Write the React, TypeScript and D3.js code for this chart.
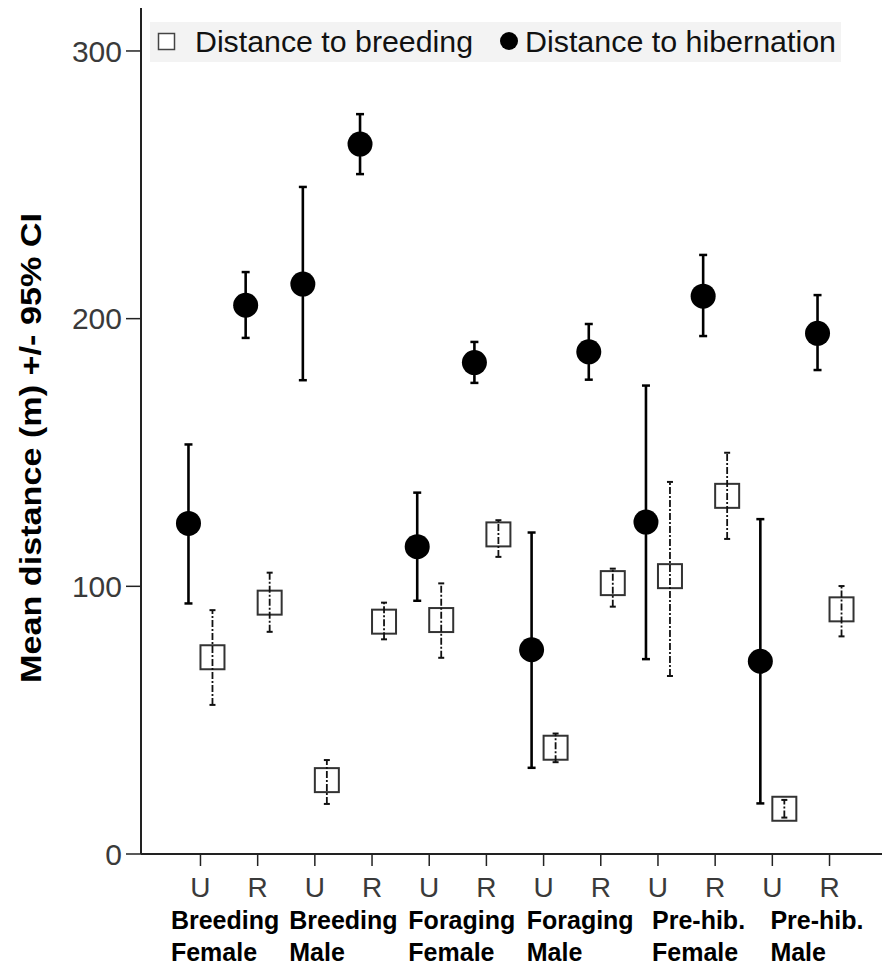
import React, { useLayoutEffect, useRef, useState } from "react";
import * as d3 from "d3";

const xLabels = ["U", "R", "U", "R", "U", "R", "U", "R", "U", "R", "U", "R"];
const groupLine1 = ["Breeding", "Breeding", "Foraging", "Foraging", "Pre-hib.", "Pre-hib."];
const groupLine2 = ["Female", "Male", "Female", "Male", "Female", "Male"];

const hibMean = [123.5, 205, 212.9, 265.2, 114.8, 183.6, 76.3, 187.6, 124, 208.4, 72, 194.5];
const hibLow = [93.6, 192.8, 177, 254, 94.6, 176, 32.2, 177.2, 72.8, 193.5, 18.9, 180.8];
const hibHigh = [153, 217.4, 249.2, 276.4, 135, 191.3, 120.1, 198, 175, 223.8, 125.1, 208.8];

const brMean = [73.5, 93.9, 27.6, 86.8, 87.4, 119.4, 39.7, 101.2, 103.8, 133.8, 16.9, 91.4];
const brLow = [55.7, 83, 18.7, 80.2, 73.3, 111, 34.3, 92.4, 66.5, 117.7, 13.6, 81.3];
const brHigh = [91.1, 105.1, 35.1, 93.9, 101.1, 124.7, 45, 106.6, 139, 149.9, 20.2, 100.1];

const yTicks = [0, 100, 200, 300];
const legendLabels = ["Distance to breeding", "Distance to hibernation"];
const yTitle = "Mean distance (m) +/- 95% CI";

const W = 882;
const H = 963;
const FONT = "'Liberation Sans', Arial, sans-serif";

export default function App() {
  const left = 141;
  const right = 890;
  const top = 6;
  const bottom = 854;

  const y = d3.scaleLinear().domain([0, 316.8]).range([bottom, top]);
  const idx = xLabels.map((_, i) => i);
  const x = d3.scalePoint<number>().domain(idx).range([left, right - 1]).padding(1.04);

  const refs = useRef<(SVGTextElement | null)[]>([]);
  const [widths, setWidths] = useState<number[]>(groupLine1.map(() => 100));
  useLayoutEffect(() => {
    const ws = refs.current.map((el) => (el ? el.getComputedTextLength() : 100));
    setWidths(ws);
  }, []);

  const off = 12;
  const sq = 24;
  const r = 12.5;

  return (
    <svg width={W} height={H} style={{ display: "block", background: "#fff" }} fontFamily={FONT}>
      <g transform="translate(-8,-8)">
        {/* legend */}
        <rect x={150} y={22} width={691} height={40} fill="#f3f3f3" />
        <rect x={158.5} y={33.5} width={16} height={16} fill="#fff" stroke="#444" strokeWidth={1.5} />
        <text x={195} y={52} fontSize={30} fill="#111" textLength={278} lengthAdjust="spacingAndGlyphs">
          {legendLabels[0]}
        </text>
        <circle cx={509} cy={41} r={9} fill="#000" />
        <text x={525} y={52} fontSize={30} fill="#111" textLength={311} lengthAdjust="spacingAndGlyphs">
          {legendLabels[1]}
        </text>

        {/* frame */}
        <line x1={left} x2={right} y1={top} y2={top} stroke="#333" strokeWidth={2} />
        <line x1={left} x2={left} y1={top} y2={bottom} stroke="#222" strokeWidth={2} />
        <line x1={left} x2={right} y1={bottom} y2={bottom} stroke="#222" strokeWidth={2} />

        {/* y ticks */}
        {yTicks.map((t) => (
          <g key={t}>
            <line x1={126} x2={left} y1={y(t)} y2={y(t)} stroke="#222" strokeWidth={1.5} />
            <text x={122} y={y(t)} dy="0.36em" textAnchor="end" fontSize={30} fill="#3a3a3a">
              {t}
            </text>
          </g>
        ))}

        {/* y title */}
        <text
          transform={`translate(41,448) rotate(-90)`}
          textAnchor="middle"
          fontSize={30}
          fontWeight="bold"
          fill="#000"
          textLength={470}
          lengthAdjust="spacingAndGlyphs"
        >
          {yTitle}
        </text>

        {/* x ticks & labels */}
        {idx.map((i) => (
          <g key={i}>
            <line x1={x(i)} x2={x(i)} y1={bottom} y2={bottom + 12} stroke="#222" strokeWidth={1.5} />
            <text x={x(i)} y={897} textAnchor="middle" fontSize={28} fill="#3a3a3a">
              {xLabels[i]}
            </text>
          </g>
        ))}
        {groupLine1.map((g, gi) => {
          const cx = ((x(gi * 2) as number) + (x(gi * 2 + 1) as number)) / 2;
          const lx = cx - widths[gi] / 2 + 4 * gi - 4;
          return (
            <g key={gi}>
              <text
                ref={(el) => {
                  refs.current[gi] = el;
                }}
                x={lx}
                y={929}
                fontSize={25}
                fontWeight="bold"
                fill="#000"
              >
                {g}
              </text>
              <text x={lx} y={961} fontSize={25} fontWeight="bold" fill="#000">
                {groupLine2[gi]}
              </text>
            </g>
          );
        })}

        {/* hibernation series */}
        {idx.map((i) => {
          const cx = (x(i) as number) - off;
          return (
            <g key={"h" + i}>
              <line x1={cx} x2={cx} y1={y(hibLow[i])} y2={y(hibHigh[i])} stroke="#000" strokeWidth={2.6} />
              <line x1={cx - 4} x2={cx + 4} y1={y(hibLow[i])} y2={y(hibLow[i])} stroke="#000" strokeWidth={2.5} />
              <line x1={cx - 4} x2={cx + 4} y1={y(hibHigh[i])} y2={y(hibHigh[i])} stroke="#000" strokeWidth={2.5} />
              <circle cx={cx} cy={y(hibMean[i])} r={r} fill="#000" />
            </g>
          );
        })}

        {/* breeding series */}
        {idx.map((i) => {
          const cx = (x(i) as number) + off;
          return (
            <g key={"b" + i}>
              <rect
                x={cx - sq / 2}
                y={y(brMean[i]) - sq / 2}
                width={sq}
                height={sq}
                fill="#fff"
                stroke="#333"
                strokeWidth={2}
              />
              <line
                x1={cx}
                x2={cx}
                y1={y(brLow[i])}
                y2={y(brHigh[i])}
                stroke="#111"
                strokeWidth={1.8}
                strokeDasharray="7,2,2,2"
              />
              <line x1={cx - 3} x2={cx + 3} y1={y(brLow[i])} y2={y(brLow[i])} stroke="#111" strokeWidth={2} />
              <line x1={cx - 3} x2={cx + 3} y1={y(brHigh[i])} y2={y(brHigh[i])} stroke="#111" strokeWidth={2} />
            </g>
          );
        })}
      </g>
    </svg>
  );
}
